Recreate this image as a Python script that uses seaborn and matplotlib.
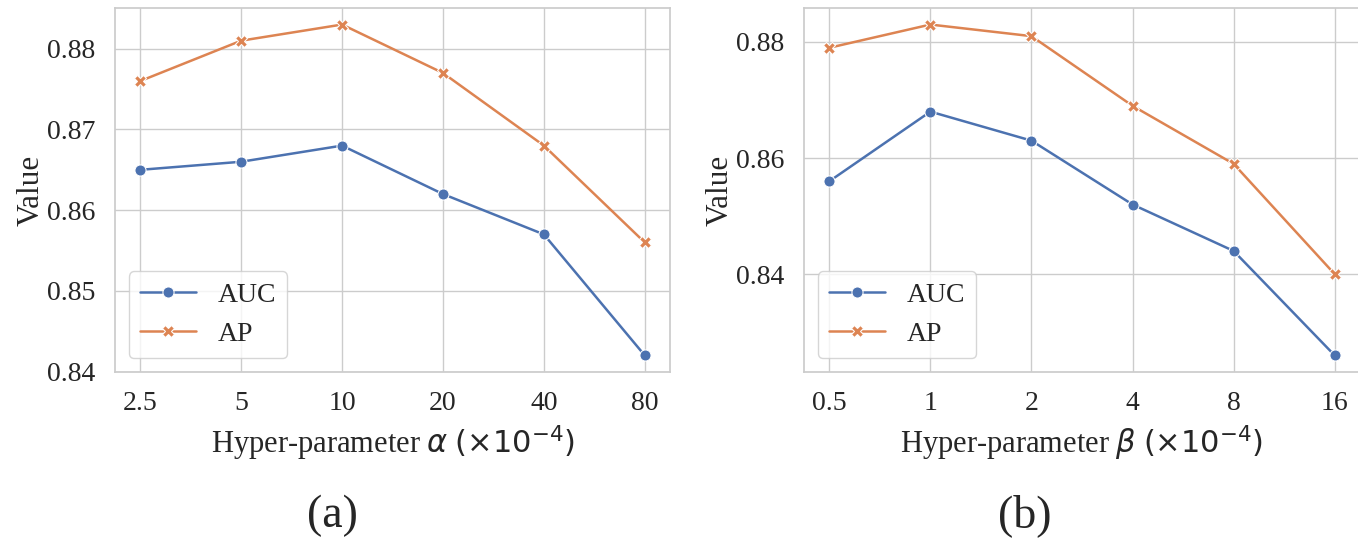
import matplotlib
matplotlib.use("Agg")
import matplotlib.pyplot as plt
import pandas as pd
import seaborn as sns

# ── Data ──────────────────────────────────────────────────────────────────────
ALPHA_TICKS = ["2.5", "5", "10", "20", "40", "80"]
ALPHA_AUC = [0.865, 0.866, 0.868, 0.862, 0.857, 0.842]
ALPHA_AP = [0.876, 0.881, 0.883, 0.877, 0.868, 0.856]

BETA_TICKS = ["0.5", "1", "2", "4", "8", "16"]
BETA_AUC = [0.856, 0.868, 0.863, 0.852, 0.844, 0.826]
BETA_AP = [0.879, 0.883, 0.881, 0.869, 0.859, 0.840]

# ── Style ─────────────────────────────────────────────────────────────────────
sns.set_theme(style="whitegrid", palette="deep")
plt.rcParams.update({
    "font.family": ["Liberation Serif", "DejaVu Serif"],
    "mathtext.fontset": "dejavusans",
    "font.size": 20,
})


def long_form(ticks, auc, ap):
    return pd.DataFrame({
        "x": ticks * 2,
        "Value": auc + ap,
        "metric": ["AUC"] * len(auc) + ["AP"] * len(ap),
    })


fig = plt.figure(figsize=(13.58, 5.42), dpi=100)
ax_a = fig.add_axes([115 / 1358, 1 - 372 / 542, 555 / 1358, 364 / 542])
ax_b = fig.add_axes([804 / 1358, 1 - 372 / 542, 556 / 1358, 364 / 542])

panels = [
    (ax_a, long_form(ALPHA_TICKS, ALPHA_AUC, ALPHA_AP), r"Hyper-parameter $\alpha$ $(\times 10^{-4})$", [0.84, 0.85, 0.86, 0.87, 0.88]),
    (ax_b, long_form(BETA_TICKS, BETA_AUC, BETA_AP), r"Hyper-parameter $\beta$ $(\times 10^{-4})$", [0.84, 0.86, 0.88]),
]

for ax, df, xlabel, yticks in panels:
    sns.lineplot(
        data=df, x="x", y="Value", hue="metric", style="metric",
        markers=True, dashes=False, markersize=8, linewidth=1.8, ax=ax,
    )
    ax.set_xlabel(xlabel, fontsize=22, labelpad=5)
    ax.set_ylabel("Value", fontsize=22.5, labelpad=1)
    ax.set_yticks(yticks)
    ax.set_yticklabels([f"{t:g}" for t in yticks])
    ax.tick_params(labelsize=20, pad=8)
    ax.legend(title=None, loc="lower left", fontsize=20)

fig.text(332 / 1358, 1 - 516 / 542, "(a)", ha="center", va="center", fontsize=33)
fig.text(1025 / 1358, 1 - 516 / 542, "(b)", ha="center", va="center", fontsize=33)

fig.savefig("out.png", dpi=100)
